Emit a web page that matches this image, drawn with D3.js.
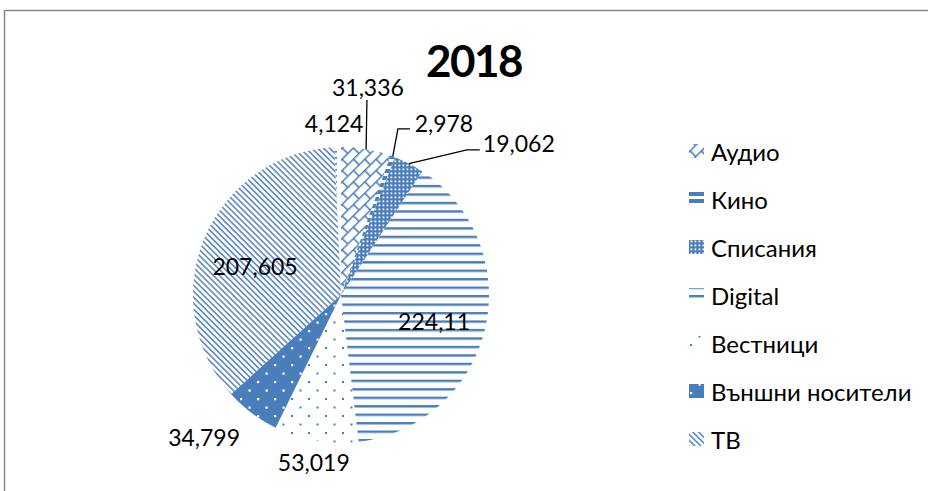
<!DOCTYPE html>
<html>
<head>
<meta charset="utf-8">
<script src="https://cdn.jsdelivr.net/npm/d3@7"></script>
<style>
  html, body { margin: 0; padding: 0; background: #fff; }
  svg { display: block; }
  text { font-family: Lato, "Open Sans", sans-serif; }
</style>
</head>
<body>
<svg id="chart" width="928" height="491"></svg>
<script>
// Media spending, 2018 (values with decimal comma, Bulgarian locale)
const title = "2018";
const categories = ["Аудио", "Кино", "Списания", "Digital", "Вестници", "Външни носители", "ТВ", "Други"];
const values = [31.336, 2.978, 19.062, 224.11, 53.019, 34.799, 207.605, 4.124];
const legendCategories = ["Аудио", "Кино", "Списания", "Digital", "Вестници", "Външни носители", "ТВ"];
const patternIds = ["p-brick", "p-kino", "p-check", "p-hline", "p-dots", "p-solid-dots", "p-diag", "p-dash"];

// Label placement: radial distance (as a share of the radius), angle nudge in degrees,
// and optional leader end points given relative to the label centre.
const labelLayout = [
  { r: 1.417, da: -2.4, leader: [[-1, 13]] },
  { r: 1.355, da: 10.4, leader: [[-46, 6], [-34, 6]] },
  { r: 1.581, da: 22.1, leader: [[-52, 7], [-39, 7]] },
  { r: 0.653, da: 2.4 },
  { r: 1.143, da: -0.4 },
  { r: 1.333, da: 6.9 },
  { r: 0.613, da: -4.0 },
  { r: 1.163, da: -1.0 }
];

const W = 928, H = 491;
const cx = 341, cy = 295, R = 148;
const blue = "#4a7ebb";

const svg = d3.select("#chart");
const defs = svg.append("defs");

// ---- fill patterns ----
function pattern(id, w, h, transform) {
  const p = defs.append("pattern").attr("id", id)
    .attr("patternUnits", "userSpaceOnUse").attr("width", w).attr("height", h);
  if (transform) p.attr("patternTransform", transform);
  return p;
}
// diagonal brick
{
  const p = pattern("p-brick", 16, 16, "rotate(-45)");
  p.append("path").attr("d", "M0,0.75H16M0,8.75H16M0.75,0V8.75M8.75,8.75V16")
    .attr("stroke", blue).attr("stroke-width", 1.6).attr("fill", "none");
}
// thick horizontal bars
{
  const p = pattern("p-kino", 8, 7);
  p.append("rect").attr("x", 0).attr("y", 0).attr("width", 8).attr("height", 4).attr("fill", blue);
}
// small check grid
{
  const p = pattern("p-check", 4, 4);
  p.append("rect").attr("width", 4).attr("height", 4).attr("fill", blue);
  p.append("rect").attr("x", 1.5).attr("y", 1.5).attr("width", 1.8).attr("height", 1.8).attr("fill", "#fff");
}
// horizontal lines
{
  const p = pattern("p-hline", 8, 8.47);
  p.append("rect").attr("width", 8).attr("height", 2.4).attr("fill", blue);
}
// sparse dots
{
  const p = pattern("p-dots", 17, 17);
  p.append("rect").attr("x", 1).attr("y", 1).attr("width", 2).attr("height", 2).attr("fill", blue);
  p.append("rect").attr("x", 9.5).attr("y", 9.5).attr("width", 2).attr("height", 2).attr("fill", blue);
}
// solid with white dots
{
  const p = pattern("p-solid-dots", 17, 17);
  p.append("rect").attr("width", 17).attr("height", 17).attr("fill", blue);
  p.append("rect").attr("x", 1).attr("y", 1).attr("width", 2.2).attr("height", 2.2).attr("fill", "#fff");
  p.append("rect").attr("x", 9.5).attr("y", 9.5).attr("width", 2.2).attr("height", 2.2).attr("fill", "#fff");
}
// narrow downward diagonal
{
  const p = pattern("p-diag", 4.2, 4.2, "rotate(45)");
  p.append("rect").attr("width", 4.2).attr("height", 1.6).attr("fill", blue).attr("opacity", 0.9);
}
// short horizontal dashes
{
  const p = pattern("p-dash", 10, 6);
  p.append("rect").attr("x", 0).attr("y", 0).attr("width", 6).attr("height", 1.6).attr("fill", blue);
}

// ---- frame ----
svg.append("rect").attr("x", 4.5).attr("y", 10.5).attr("width", 1000).attr("height", 1000)
  .attr("fill", "#fff").attr("stroke", "#8a8a8a").attr("stroke-width", 1.5);

// ---- title ----
svg.append("text").attr("x", 474).attr("y", 77)
  .attr("text-anchor", "middle").attr("font-size", 44).attr("font-weight", 700)
  .attr("letter-spacing", -1.5).attr("fill", "#000").text(title);

// ---- pie ----
const data = categories.map((c, i) => ({ name: c, value: values[i], pat: patternIds[i], layout: labelLayout[i] }));
const pie = d3.pie().value(d => d.value).sort(null).startAngle(0).endAngle(2 * Math.PI);
const arcs = pie(data);
const arc = d3.arc().innerRadius(0).outerRadius(R);

const g = svg.append("g").attr("transform", `translate(${cx},${cy})`);
g.selectAll("path.slice").data(arcs).join("path")
  .attr("class", "slice")
  .attr("d", arc)
  .attr("fill", d => `url(#${d.data.pat})`);

// ---- data labels ----
const loc = d3.formatLocale({ decimal: ",", thousands: " ", grouping: [3], currency: ["", ""] });
const fmt = loc.format("~f");
const polar = (a, r) => [r * Math.sin(a), -r * Math.cos(a)];

arcs.forEach(d => {
  const L = d.data.layout;
  const mid = (d.startAngle + d.endAngle) / 2;
  const [lx, ly] = polar(mid + L.da * Math.PI / 180, L.r * R);
  if (L.leader) {
    const start = polar(mid, R);
    const pts = [start].concat(L.leader.map(([ox, oy]) => [lx + ox, ly + oy]));
    g.append("path").attr("d", d3.line()(pts))
      .attr("fill", "none").attr("stroke", "#000").attr("stroke-width", 1.3);
  }
  g.append("text").attr("x", lx).attr("y", ly)
    .attr("text-anchor", "middle").attr("dominant-baseline", "central")
    .attr("font-size", 23).attr("fill", "#000")
    .text(fmt(d.data.value));
});

// ---- legend ----
const legend = svg.append("g").attr("transform", "translate(689,151)");
const item = legend.selectAll("g").data(legendCategories).join("g")
  .attr("transform", (d, i) => `translate(0,${i * 48})`);
item.append("rect").attr("x", 0).attr("y", -7).attr("width", 15).attr("height", 14)
  .attr("fill", (d, i) => `url(#${patternIds[i]})`);
item.append("text").attr("x", 22).attr("y", 0).attr("dominant-baseline", "central")
  .attr("font-size", 24).attr("fill", "#000").text(d => d);
</script>
</body>
</html>
